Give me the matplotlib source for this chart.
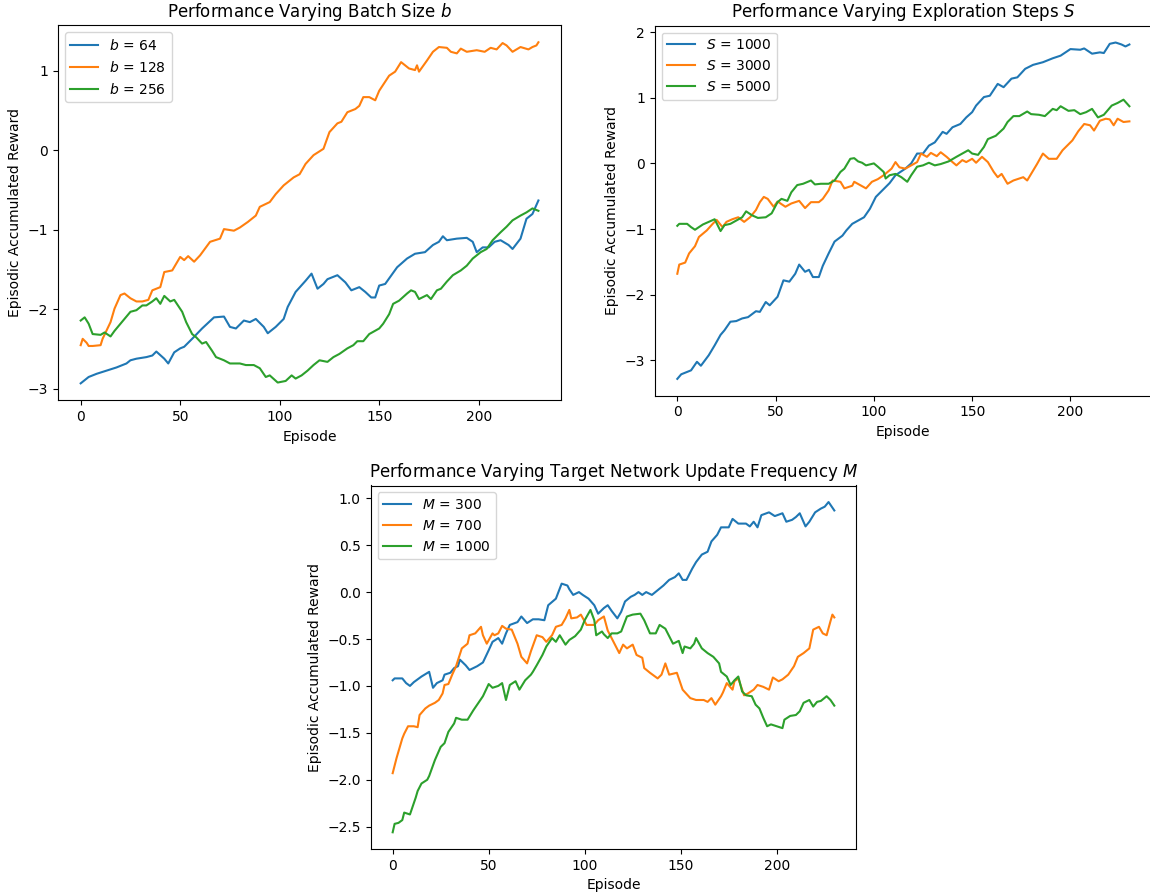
import matplotlib
matplotlib.use("Agg")
import matplotlib.pyplot as plt

# ---------------- Data: Batch size b ----------------
b64_ep = [0, 4, 8, 13, 18, 23, 25, 28, 33, 36, 38, 42, 44, 47, 50, 52, 56, 61, 67, 72, 75, 78, 82, 85, 88, 92, 94, 98, 102, 104, 108, 113, 116, 119, 122, 124, 129, 133, 136, 140, 143, 146, 148, 150, 153, 155, 159, 164, 168, 173, 177, 180, 182, 184, 189, 194, 197, 199, 202, 205, 208, 211, 215, 217, 221, 224, 227, 230]
b64_val = [-2.93, -2.85, -2.81, -2.77, -2.73, -2.68, -2.64, -2.62, -2.60, -2.58, -2.53, -2.62, -2.68, -2.54, -2.49, -2.47, -2.37, -2.24, -2.10, -2.09, -2.22, -2.24, -2.14, -2.16, -2.12, -2.22, -2.30, -2.22, -2.12, -1.97, -1.78, -1.64, -1.55, -1.74, -1.68, -1.62, -1.57, -1.66, -1.76, -1.72, -1.78, -1.85, -1.85, -1.70, -1.68, -1.61, -1.47, -1.36, -1.30, -1.28, -1.19, -1.15, -1.08, -1.13, -1.11, -1.10, -1.15, -1.28, -1.22, -1.22, -1.15, -1.13, -1.19, -1.24, -1.11, -0.86, -0.80, -0.63]

b128_ep = [0, 1, 3, 4, 6, 10, 11, 15, 17, 20, 22, 25, 28, 31, 34, 36, 40, 42, 46, 50, 52, 54, 57, 60, 65, 70, 72, 77, 80, 84, 88, 90, 95, 98, 102, 107, 110, 113, 117, 122, 125, 129, 131, 134, 138, 140, 142, 145, 148, 150, 155, 158, 161, 165, 168, 169, 170, 174, 177, 180, 184, 186, 189, 191, 194, 199, 203, 206, 209, 212, 214, 217, 221, 225, 227, 229, 230]
b128_val = [-2.45, -2.37, -2.42, -2.46, -2.46, -2.45, -2.37, -2.16, -1.99, -1.82, -1.80, -1.86, -1.90, -1.90, -1.88, -1.76, -1.72, -1.53, -1.51, -1.34, -1.38, -1.33, -1.40, -1.32, -1.15, -1.11, -0.99, -1.01, -0.97, -0.90, -0.82, -0.71, -0.65, -0.55, -0.44, -0.34, -0.30, -0.17, -0.06, 0.02, 0.23, 0.34, 0.36, 0.48, 0.52, 0.56, 0.67, 0.67, 0.63, 0.75, 0.94, 0.99, 1.11, 1.03, 1.01, 1.07, 0.99, 1.13, 1.24, 1.30, 1.29, 1.24, 1.22, 1.28, 1.24, 1.26, 1.24, 1.29, 1.27, 1.35, 1.32, 1.24, 1.30, 1.27, 1.30, 1.32, 1.36]

b256_ep = [0, 2, 4, 6, 10, 12, 15, 17, 20, 22, 25, 28, 31, 33, 36, 38, 40, 42, 45, 47, 51, 53, 56, 58, 61, 63, 66, 68, 72, 75, 80, 83, 87, 90, 93, 95, 99, 103, 106, 108, 111, 114, 117, 120, 124, 127, 130, 134, 137, 139, 142, 145, 150, 152, 155, 157, 160, 164, 166, 168, 170, 174, 176, 179, 181, 184, 187, 191, 194, 197, 201, 204, 207, 211, 214, 217, 221, 224, 227, 230]
b256_val = [-2.14, -2.10, -2.18, -2.31, -2.32, -2.29, -2.34, -2.27, -2.18, -2.12, -2.03, -2.01, -1.95, -1.95, -1.90, -1.86, -1.93, -1.83, -1.90, -1.88, -2.03, -2.16, -2.31, -2.35, -2.43, -2.41, -2.52, -2.60, -2.64, -2.68, -2.68, -2.70, -2.70, -2.74, -2.85, -2.83, -2.92, -2.90, -2.83, -2.87, -2.83, -2.77, -2.70, -2.64, -2.66, -2.60, -2.56, -2.49, -2.45, -2.40, -2.40, -2.31, -2.24, -2.18, -2.06, -1.93, -1.89, -1.80, -1.76, -1.78, -1.87, -1.82, -1.87, -1.76, -1.74, -1.65, -1.57, -1.51, -1.45, -1.36, -1.28, -1.24, -1.13, -1.03, -0.96, -0.88, -0.82, -0.78, -0.73, -0.76]

# ---------------- Data: Exploration steps S ----------------
s1000_ep = [0, 2, 7, 10, 12, 16, 19, 22, 24, 27, 30, 33, 36, 40, 42, 45, 47, 51, 54, 57, 60, 62, 65, 67, 69, 72, 74, 77, 80, 84, 86, 89, 92, 95, 98, 101, 105, 108, 111, 116, 119, 122, 125, 128, 131, 135, 137, 140, 144, 147, 150, 152, 156, 159, 163, 166, 170, 173, 177, 181, 186, 191, 195, 200, 205, 207, 211, 215, 217, 220, 223, 226, 228, 230]
s1000_val = [-3.28, -3.21, -3.15, -3.02, -3.08, -2.92, -2.77, -2.61, -2.54, -2.41, -2.40, -2.36, -2.34, -2.25, -2.26, -2.11, -2.16, -2.03, -1.78, -1.80, -1.68, -1.54, -1.65, -1.62, -1.73, -1.73, -1.56, -1.37, -1.19, -1.10, -1.02, -0.92, -0.87, -0.82, -0.69, -0.51, -0.39, -0.30, -0.18, -0.08, 0.00, 0.15, 0.15, 0.27, 0.32, 0.48, 0.45, 0.55, 0.60, 0.70, 0.78, 0.88, 1.01, 1.03, 1.21, 1.16, 1.29, 1.31, 1.44, 1.50, 1.54, 1.60, 1.64, 1.74, 1.73, 1.75, 1.67, 1.69, 1.68, 1.82, 1.84, 1.81, 1.78, 1.81]

s3000_ep = [0, 1, 4, 6, 9, 11, 15, 18, 20, 23, 25, 28, 31, 34, 37, 40, 42, 44, 46, 49, 51, 55, 58, 62, 65, 68, 72, 74, 77, 79, 83, 85, 89, 90, 93, 96, 99, 102, 105, 107, 109, 111, 113, 116, 119, 122, 124, 127, 129, 132, 134, 137, 140, 142, 145, 147, 150, 152, 155, 158, 161, 163, 165, 168, 171, 174, 176, 178, 180, 183, 186, 189, 193, 196, 201, 204, 207, 210, 212, 215, 218, 220, 222, 224, 227, 230]
s3000_val = [-1.68, -1.54, -1.51, -1.37, -1.26, -1.12, -1.02, -0.92, -0.86, -0.97, -0.89, -0.85, -0.82, -0.89, -0.82, -0.71, -0.59, -0.51, -0.54, -0.66, -0.58, -0.66, -0.61, -0.57, -0.68, -0.59, -0.59, -0.54, -0.41, -0.26, -0.28, -0.38, -0.34, -0.28, -0.33, -0.38, -0.28, -0.24, -0.18, -0.13, -0.08, 0.02, -0.06, -0.08, -0.03, 0.02, 0.15, 0.10, 0.16, 0.11, 0.17, 0.10, 0.02, -0.03, 0.05, 0.02, 0.07, 0.01, 0.10, 0.02, -0.13, -0.21, -0.16, -0.31, -0.26, -0.23, -0.21, -0.26, -0.16, -0.01, 0.15, 0.07, 0.07, 0.20, 0.35, 0.49, 0.60, 0.58, 0.50, 0.65, 0.68, 0.67, 0.58, 0.68, 0.63, 0.64]

s5000_ep = [0, 1, 5, 7, 9, 11, 13, 16, 19, 22, 24, 27, 30, 33, 35, 38, 41, 45, 48, 51, 53, 56, 58, 61, 64, 68, 70, 73, 77, 80, 83, 85, 88, 90, 92, 94, 96, 100, 102, 105, 106, 108, 111, 114, 117, 119, 122, 125, 128, 131, 134, 138, 142, 145, 148, 150, 153, 156, 158, 162, 166, 168, 171, 174, 178, 180, 184, 187, 191, 193, 195, 199, 202, 205, 208, 211, 214, 217, 221, 224, 227, 230]
s5000_val = [-0.95, -0.92, -0.92, -0.97, -1.01, -0.97, -0.93, -0.89, -0.85, -1.03, -0.94, -0.92, -0.87, -0.82, -0.73, -0.79, -0.83, -0.82, -0.76, -0.59, -0.54, -0.57, -0.44, -0.33, -0.31, -0.26, -0.32, -0.31, -0.31, -0.26, -0.13, -0.08, 0.07, 0.08, 0.03, 0.01, -0.03, 0.00, -0.05, -0.13, -0.23, -0.18, -0.16, -0.21, -0.28, -0.18, -0.05, -0.03, 0.01, -0.03, -0.01, 0.03, 0.10, 0.15, 0.20, 0.15, 0.13, 0.25, 0.37, 0.42, 0.53, 0.63, 0.72, 0.72, 0.79, 0.75, 0.74, 0.72, 0.83, 0.81, 0.87, 0.80, 0.81, 0.75, 0.78, 0.83, 0.70, 0.74, 0.88, 0.92, 0.97, 0.87]

# ---------------- Data: Target network update frequency M ----------------
m300_ep = [0, 1, 5, 7, 9, 11, 13, 15, 19, 21, 23, 26, 27, 30, 32, 34, 35, 38, 40, 44, 47, 50, 52, 55, 57, 59, 61, 65, 67, 70, 73, 76, 79, 81, 85, 88, 91, 92, 94, 97, 99, 102, 105, 107, 110, 112, 114, 117, 119, 121, 124, 126, 128, 130, 132, 135, 138, 141, 144, 147, 149, 151, 153, 156, 158, 161, 164, 166, 169, 171, 175, 177, 180, 184, 186, 188, 190, 192, 196, 199, 203, 205, 208, 210, 212, 215, 217, 220, 223, 225, 227, 230]
m300_val = [-0.94, -0.92, -0.92, -0.97, -1.00, -0.96, -0.93, -0.90, -0.85, -1.02, -0.97, -0.94, -0.88, -0.86, -0.81, -0.79, -0.72, -0.78, -0.83, -0.79, -0.75, -0.62, -0.53, -0.49, -0.55, -0.44, -0.35, -0.32, -0.26, -0.33, -0.29, -0.29, -0.30, -0.14, -0.07, 0.09, 0.07, 0.03, -0.03, 0.00, -0.03, -0.07, -0.14, -0.23, -0.17, -0.14, -0.20, -0.28, -0.21, -0.10, -0.05, -0.03, 0.00, -0.03, 0.00, -0.03, 0.02, 0.07, 0.13, 0.16, 0.20, 0.13, 0.13, 0.25, 0.32, 0.40, 0.43, 0.54, 0.61, 0.69, 0.69, 0.78, 0.73, 0.73, 0.70, 0.75, 0.69, 0.82, 0.85, 0.81, 0.84, 0.75, 0.77, 0.80, 0.84, 0.70, 0.75, 0.85, 0.89, 0.91, 0.96, 0.87]

m700_ep = [0, 2, 5, 6, 8, 11, 13, 14, 17, 19, 22, 24, 26, 27, 29, 31, 33, 36, 39, 40, 43, 46, 47, 49, 52, 53, 55, 57, 59, 62, 65, 67, 70, 72, 75, 78, 80, 83, 85, 88, 90, 92, 93, 96, 98, 101, 105, 107, 110, 112, 115, 118, 120, 122, 125, 127, 130, 131, 134, 138, 140, 142, 144, 148, 151, 155, 158, 162, 164, 166, 168, 171, 172, 174, 177, 178, 180, 183, 185, 188, 190, 193, 196, 198, 201, 203, 206, 209, 211, 214, 217, 219, 222, 224, 226, 228, 229, 230]
m700_val = [-1.93, -1.77, -1.56, -1.51, -1.43, -1.43, -1.44, -1.31, -1.24, -1.21, -1.18, -1.15, -1.08, -0.99, -0.98, -0.88, -0.79, -0.60, -0.55, -0.46, -0.44, -0.37, -0.46, -0.55, -0.44, -0.46, -0.44, -0.36, -0.39, -0.40, -0.55, -0.69, -0.76, -0.63, -0.46, -0.48, -0.53, -0.46, -0.37, -0.35, -0.28, -0.19, -0.28, -0.27, -0.24, -0.35, -0.35, -0.30, -0.26, -0.41, -0.53, -0.65, -0.56, -0.60, -0.56, -0.67, -0.70, -0.81, -0.86, -0.92, -0.88, -0.76, -0.88, -0.86, -1.04, -1.13, -1.15, -1.15, -1.17, -1.13, -1.20, -1.11, -1.07, -0.97, -1.04, -0.95, -0.92, -1.10, -1.08, -1.04, -0.99, -1.01, -1.04, -0.91, -0.95, -0.93, -0.88, -0.79, -0.69, -0.65, -0.60, -0.40, -0.37, -0.44, -0.46, -0.31, -0.24, -0.27]

m1000_ep = [0, 1, 3, 5, 6, 9, 12, 13, 15, 18, 19, 22, 25, 27, 29, 32, 33, 36, 39, 42, 45, 47, 50, 52, 55, 57, 59, 61, 64, 66, 69, 72, 73, 75, 78, 80, 83, 85, 87, 90, 92, 95, 98, 100, 103, 105, 106, 109, 110, 112, 114, 117, 119, 122, 125, 129, 131, 134, 137, 139, 142, 144, 146, 149, 151, 152, 155, 157, 158, 161, 164, 167, 170, 171, 174, 176, 178, 180, 182, 184, 187, 189, 191, 193, 195, 197, 200, 203, 204, 207, 210, 212, 214, 217, 219, 221, 223, 226, 228, 230]
m1000_val = [-2.56, -2.47, -2.46, -2.43, -2.35, -2.37, -2.19, -2.12, -2.04, -2.00, -1.96, -1.79, -1.65, -1.61, -1.49, -1.40, -1.34, -1.36, -1.36, -1.26, -1.17, -1.11, -0.98, -1.02, -1.00, -0.97, -1.15, -0.99, -0.95, -1.04, -0.94, -0.88, -0.85, -0.78, -0.67, -0.58, -0.49, -0.53, -0.46, -0.56, -0.51, -0.47, -0.40, -0.30, -0.19, -0.30, -0.46, -0.42, -0.45, -0.49, -0.44, -0.44, -0.42, -0.26, -0.24, -0.23, -0.30, -0.44, -0.44, -0.35, -0.39, -0.47, -0.55, -0.52, -0.65, -0.58, -0.60, -0.55, -0.49, -0.60, -0.65, -0.69, -0.76, -0.85, -0.90, -0.99, -0.94, -0.90, -1.06, -1.10, -1.11, -1.20, -1.24, -1.34, -1.43, -1.41, -1.43, -1.45, -1.36, -1.32, -1.31, -1.27, -1.18, -1.15, -1.22, -1.17, -1.16, -1.11, -1.15, -1.21]

titles = [r"Performance Varying Batch Size $b$",
          r"Performance Varying Exploration Steps $S$",
          r"Performance Varying Target Network Update Frequency $M$"]
labels_b = [r"$b$ = 64", r"$b$ = 128", r"$b$ = 256"]
labels_s = [r"$S$ = 1000", r"$S$ = 3000", r"$S$ = 5000"]
labels_m = [r"$M$ = 300", r"$M$ = 700", r"$M$ = 1000"]

W, H = 1150, 892
fig = plt.figure(figsize=(W / 100, H / 100), dpi=100)

def ax_px(left, right, top, bottom):
    return fig.add_axes([left / W, (H - bottom) / H, (right - left) / W, (bottom - top) / H])

ax1 = ax_px(57.8, 561.3, 25.2, 400.4)
ax2 = ax_px(654.7, 1152.0, 25.7, 395.7)
ax3 = ax_px(370.6, 856.4, 485.5, 848.8)

FS_T = 12
FS = 10
LW = 1.5
colors = ["#1f77b4", "#ff7f0e", "#2ca02c"]

panels = [
    (ax1, [(b64_ep, b64_val), (b128_ep, b128_val), (b256_ep, b256_val)], labels_b, titles[0]),
    (ax2, [(s1000_ep, s1000_val), (s3000_ep, s3000_val), (s5000_ep, s5000_val)], labels_s, titles[1]),
    (ax3, [(m300_ep, m300_val), (m700_ep, m700_val), (m1000_ep, m1000_val)], labels_m, titles[2]),
]

for ax, series, labs, title in panels:
    for (ep, val), lab, c in zip(series, labs, colors):
        ax.plot(ep, val, color=c, lw=LW, label=lab)
    ax.set_title(title, fontsize=FS_T)
    ax.set_xlabel("Episode", fontsize=FS)
    ax.set_ylabel("Episodic Accumulated Reward", fontsize=FS)
    ax.tick_params(labelsize=FS)
    ax.set_xticks([0, 50, 100, 150, 200])
    ax.legend(loc="upper left", fontsize=FS)

ax1.set_yticks([-3, -2, -1, 0, 1])
ax2.set_yticks([-3, -2, -1, 0, 1, 2])
ax3.set_yticks([-2.5, -2.0, -1.5, -1.0, -0.5, 0.0, 0.5, 1.0])

fig.savefig("out.png", dpi=100)
